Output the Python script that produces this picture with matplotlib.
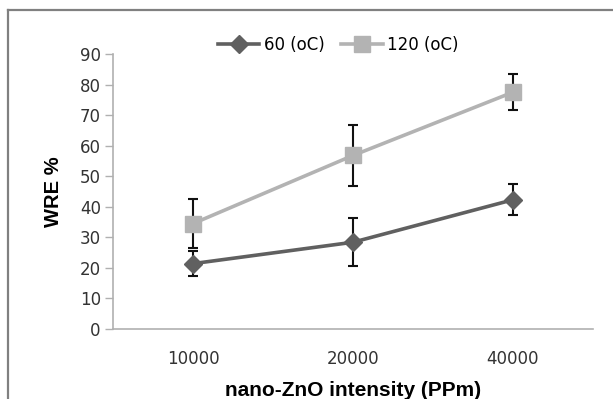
import numpy as np
import matplotlib
matplotlib.use("Agg")
import matplotlib.pyplot as plt
from matplotlib.lines import Line2D

# data
categories = ["10000", "20000", "40000"]
wre_60 = [21.4, 28.4, 42.3]
err_60 = [4.1, 7.9, 5.0]
wre_120 = [34.5, 56.8, 77.5]
err_120 = [8.0, 10.0, 5.9]
y_ticks = [0, 10, 20, 30, 40, 50, 60, 70, 80, 90]

dark = "#606060"
light = "#b3b3b3"
axis_grey = "#b0b0b0"

fig = plt.figure(figsize=(6.13, 3.99), dpi=100)
ax = fig.add_axes([0.1843, 0.1754, 0.783, 0.6892])

x = np.arange(len(categories))

# error bars first, markers drawn on top
ax.errorbar(x, wre_60, yerr=err_60, fmt="none", ecolor="#111111",
            elinewidth=1.5, capsize=3.6, capthick=1.5, zorder=2)
ax.errorbar(x, wre_120, yerr=err_120, fmt="none", ecolor="#111111",
            elinewidth=1.5, capsize=3.6, capthick=1.5, zorder=2)

ax.plot(x, wre_60, color=dark, lw=2.6, marker="D", markersize=9,
        markeredgecolor=dark, label="60 (oC)", zorder=3)
ax.plot(x, wre_120, color=light, lw=2.6, marker="s", markersize=11.5,
        markeredgecolor=light, label="120 (oC)", zorder=3)

ax.set_xlim(-0.5, len(categories) - 0.5)
ax.set_ylim(0, 90)
ax.set_xticks(x)
ax.set_xticklabels(categories)
ax.set_yticks(y_ticks)

for side in ["top", "right"]:
    ax.spines[side].set_visible(False)
for side in ["left", "bottom"]:
    ax.spines[side].set_color(axis_grey)
    ax.spines[side].set_linewidth(1.2)

ax.tick_params(axis="y", direction="out", length=5.8, width=1.0,
               color=axis_grey, pad=3, labelsize=12, labelcolor="#333333")
ax.tick_params(axis="x", length=0, pad=15, labelsize=12, labelcolor="#333333")

ax.set_ylabel("WRE %", family="Liberation Sans", fontweight="bold", fontsize=14.5)
ax.yaxis.set_label_coords(-0.105, 0.5)
ax.set_xlabel("nano-ZnO intensity (PPm)", family="Liberation Sans",
              fontweight="bold", fontsize=15)
ax.xaxis.set_label_coords(0.5, -0.19)

fig.legend(loc="center", bbox_to_anchor=(338 / 613, 1 - 45 / 399), ncol=2,
           frameon=False, fontsize=12, handlelength=2.5, handletextpad=0.25,
           columnspacing=1.0, borderaxespad=0)

# chart-area border (left and top edges visible in the reference)
fig.add_artist(Line2D([8 / 613, 8 / 613], [0, 1 - 10 / 399],
                      transform=fig.transFigure, color="#808080", lw=1.6))
fig.add_artist(Line2D([8 / 613, 1], [1 - 10 / 399, 1 - 10 / 399],
                      transform=fig.transFigure, color="#808080", lw=1.6))

fig.savefig("out.png", dpi=100)
